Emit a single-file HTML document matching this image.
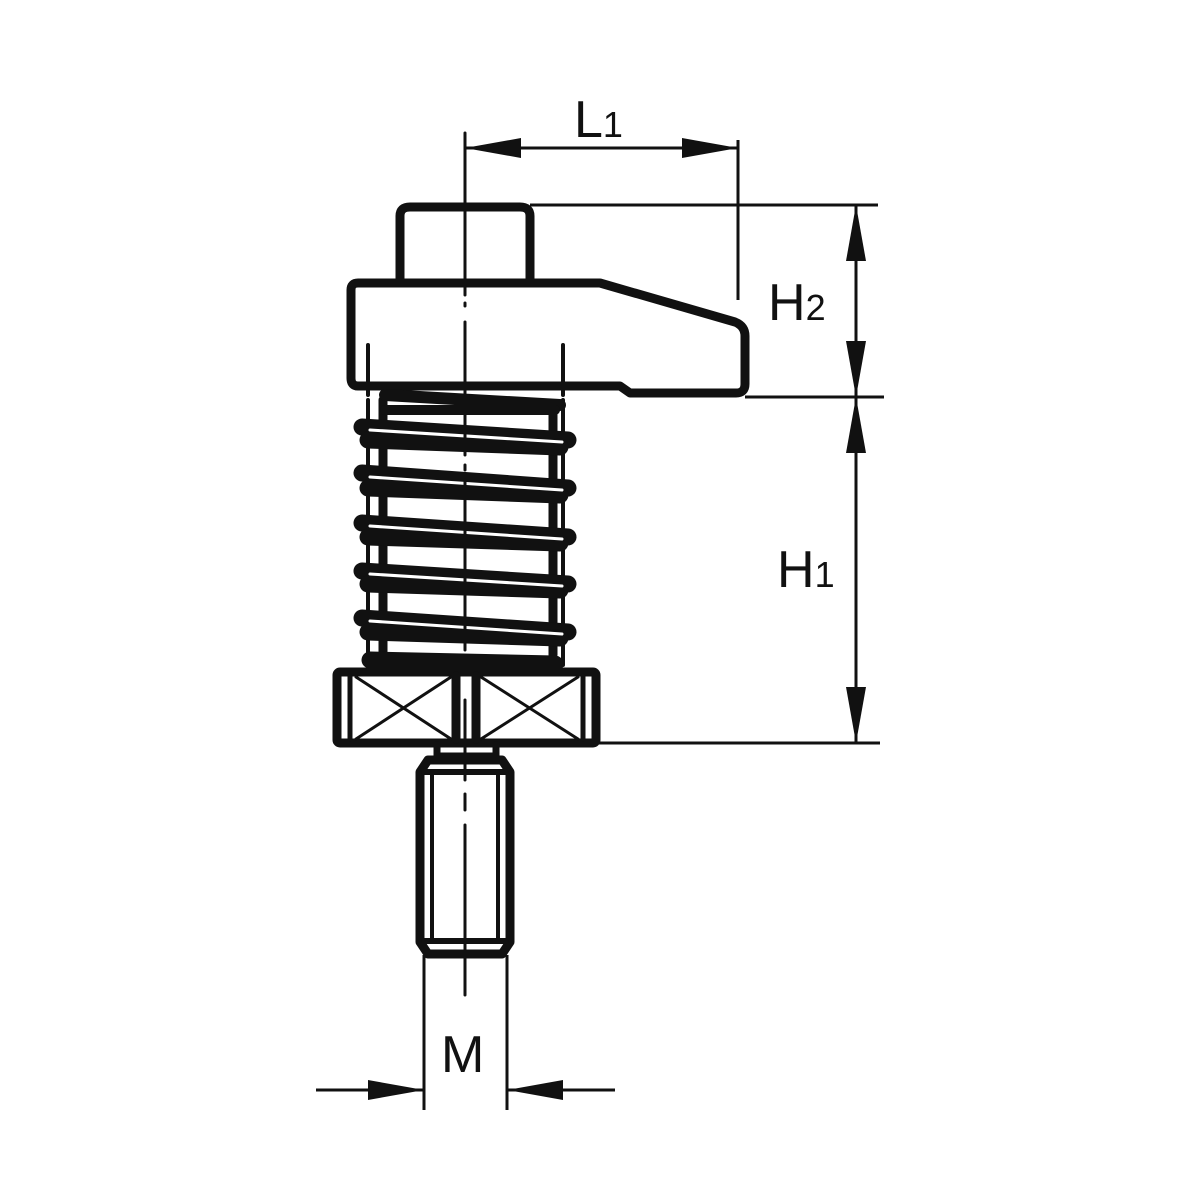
<!DOCTYPE html>
<html><head><meta charset="utf-8"><style>html,body{margin:0;padding:0;background:#fff}svg{display:block}</style></head><body>
<svg width="1200" height="1200" viewBox="0 0 1200 1200" xmlns="http://www.w3.org/2000/svg">
<defs>
<marker id="a" viewBox="0 0 56 20" refX="56" refY="10" markerWidth="56" markerHeight="20" markerUnits="userSpaceOnUse" orient="auto-start-reverse"><path d="M0,0 L56,10 L0,20 Z" fill="#111"/></marker>
</defs>
<g fill="none" stroke="#111" stroke-linejoin="round" stroke-linecap="round">
<!-- cap -->
<path d="M400,280 V216 Q400,207 410,207 H520 Q530,207 530,216 V280" stroke-width="9"/>
<!-- arm -->
<path d="M358,283 H600 L735,322 Q745,326 745,336 V384 Q745,393 736,393 H630 L620,386 H358 Q351,386 351,378 V290 Q351,283 358,283 Z" stroke-width="9"/>
<!-- body lines -->
<line x1="368" y1="345" x2="368" y2="395" stroke-width="4"/>
<line x1="563" y1="345" x2="563" y2="395" stroke-width="4"/>
<path d="M383,400 V655" stroke-width="9"/>
<path d="M553,408 V655" stroke-width="9"/>
<line x1="368" y1="400" x2="368" y2="665" stroke-width="4"/>
<line x1="563" y1="400" x2="563" y2="665" stroke-width="4"/>
<!-- top coil -->
<path d="M385,395 L560,405" stroke-width="12"/>
<path d="M385,410 H555" stroke-width="10"/>
<!-- coils -->
<g stroke-width="17">
<path d="M362,427 L568,440"/><path d="M362,473 L568,488"/><path d="M362,523 L568,537"/><path d="M362,571 L568,584"/><path d="M362,618 L568,632"/>
<path d="M368,440 L560,447"/><path d="M368,488 L560,495"/><path d="M368,537 L560,543"/><path d="M368,584 L560,590"/><path d="M368,632 L560,638"/>
<path d="M370,660 L555,664"/>
</g>
<g stroke="#fff" stroke-width="3">
<path d="M370,430 L562,442"/><path d="M370,477 L562,490"/><path d="M370,526 L562,539"/><path d="M370,574 L562,586"/><path d="M370,621 L562,634"/>
</g>
<!-- nut -->
<rect x="337" y="672" width="259" height="71" rx="3" stroke-width="9"/>
<line x1="350" y1="676" x2="350" y2="739" stroke-width="5"/>
<line x1="583" y1="676" x2="583" y2="739" stroke-width="5"/>
<line x1="456" y1="676" x2="456" y2="739" stroke-width="9"/>
<line x1="476" y1="676" x2="476" y2="739" stroke-width="9"/>
<g stroke-width="3"><path d="M356,677 L451,739 M451,677 L356,739 M481,677 L578,739 M578,677 L481,739"/></g>
<!-- bolt -->
<path d="M437,745 V756 H496 V745" stroke-width="7"/>
<path d="M428,760 H502 L510,772 V942 L502,954 H428 L420,942 V772 Z" stroke-width="9"/>
<line x1="432" y1="772" x2="432" y2="942" stroke-width="4"/>
<line x1="498" y1="772" x2="498" y2="942" stroke-width="4"/>
<line x1="424" y1="772" x2="506" y2="772" stroke-width="6"/>
<line x1="424" y1="941" x2="506" y2="941" stroke-width="6"/>
</g>
<!-- thin lines -->
<g stroke="#111" stroke-width="3" fill="none">
<path d="M465,133 V295 M465,303 V306 M465,322 V455 M465,465 V470 M465,480 V650 M465,700 V780 M465,794 V810 M465,825 V995" stroke-linecap="round"/>
<line x1="738" y1="140" x2="738" y2="300"/>
<line x1="530" y1="205" x2="878" y2="205"/>
<line x1="745" y1="397" x2="884" y2="397"/>
<line x1="596" y1="743" x2="880" y2="743"/>
<line x1="424" y1="955" x2="424" y2="1110"/>
<line x1="507" y1="955" x2="507" y2="1110"/>
<line x1="465" y1="148" x2="738" y2="148" marker-start="url(#a)" marker-end="url(#a)"/>
<line x1="856" y1="205" x2="856" y2="397" marker-start="url(#a)" marker-end="url(#a)"/>
<line x1="856" y1="397" x2="856" y2="743" marker-start="url(#a)" marker-end="url(#a)"/>
<line x1="316" y1="1090" x2="424" y2="1090" marker-end="url(#a)"/>
<line x1="615" y1="1090" x2="507" y2="1090" marker-end="url(#a)"/>
</g>
<g font-family="Liberation Sans, sans-serif" fill="#111">
<text x="574" y="137" font-size="52">L<tspan font-size="36">1</tspan></text>
<text x="768" y="320" font-size="52">H<tspan font-size="36">2</tspan></text>
<text x="777" y="587" font-size="52">H<tspan font-size="36">1</tspan></text>
<text x="441" y="1072" font-size="52">M</text>
</g>
</svg>
</body></html>
